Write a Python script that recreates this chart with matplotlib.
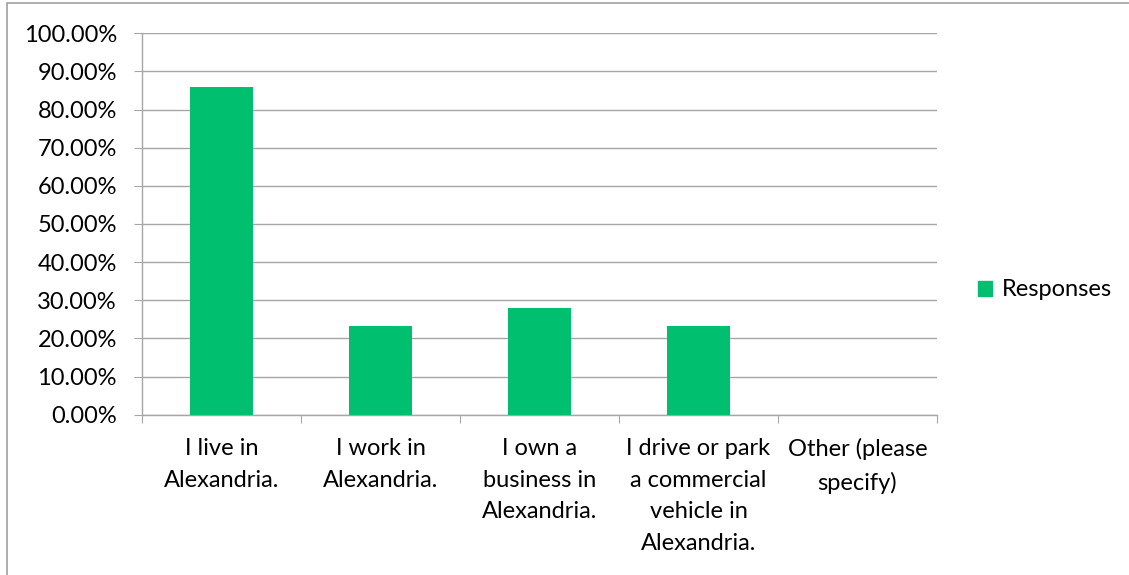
import matplotlib.pyplot as plt
from matplotlib.patches import Rectangle, Patch
from matplotlib.ticker import FuncFormatter

categories = ["I live in\nAlexandria.", "I work in\nAlexandria.", "I own a\nbusiness in\nAlexandria.",
              "I drive or park\na commercial\nvehicle in\nAlexandria.", "Other (please\nspecify)"]
responses = [86.05, 23.26, 27.91, 23.26, 0.0]
y_ticks = [0, 10, 20, 30, 40, 50, 60, 70, 80, 90, 100]

W, H = 1129, 575
plt.rcParams['font.family'] = ['Lato', 'DejaVu Sans']
fig = plt.figure(figsize=(W / 100, H / 100), dpi=100)

# chart outer border (runs off the right and bottom of the image)
fig.patches.append(Rectangle((7 / W, -0.2), 1.2, 1.2 - 3 / H, transform=fig.transFigure,
                             fill=False, edgecolor='#a0a0a0', linewidth=1.2))

left, right, top, bottom = 142, 937, 33.3, 414.7
ax = fig.add_axes([left / W, 1 - bottom / H, (right - left) / W, (bottom - top) / H])

grid_col = '#a6a6a6'
fs = 17
x = range(len(categories))
ax.bar(x, responses, width=0.4, color='#00bf6f', zorder=3)

ax.set_xlim(-0.5, len(categories) - 0.5)
ax.set_ylim(0, 100)
ax.set_yticks(y_ticks)
ax.yaxis.set_major_formatter(FuncFormatter(lambda v, p: f"{v:.2f}%"))
ax.grid(axis='y', color=grid_col, linewidth=1, zorder=0)

ax.set_xticks([i - 0.5 for i in range(len(categories) + 1)], minor=False)
ax.set_xticklabels([])
ax.set_xticks(list(x), minor=True)
ax.set_xticklabels(categories, minor=True, fontsize=fs, linespacing=1.62)
ax.tick_params(axis='x', which='major', length=6, color=grid_col, direction='out')
ax.tick_params(axis='x', which='minor', length=0, pad=17)
ax.tick_params(axis='y', length=6, color=grid_col, labelsize=fs, pad=12)

for s in ['top', 'right']:
    ax.spines[s].set_visible(False)
for s in ['left', 'bottom']:
    ax.spines[s].set_color(grid_col)
    ax.spines[s].set_linewidth(1)

fig.legend(handles=[Patch(color='#00bf6f', label='Responses')], loc='center left',
           bbox_to_anchor=(957 / W, 1 - 290 / H), frameon=False, fontsize=fs,
           handlelength=0.6, handleheight=0.6, handletextpad=0.4)

fig.savefig("out.png", dpi=100)
